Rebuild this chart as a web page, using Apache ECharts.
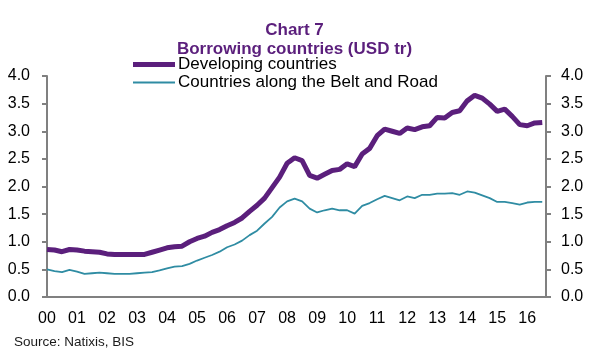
<!DOCTYPE html>
<html>
<head>
<meta charset="utf-8">
<script src="https://cdn.jsdelivr.net/npm/echarts@6/dist/echarts.min.js"></script>
<style>html,body{margin:0;padding:0;background:#fff}#c{width:589px;height:359px}</style>
</head>
<body>
<div id="c"></div>
<script>
// Quarterly observations, 2000Q1 .. 2016Q3
var quarters = [];
for (var y = 2000; y <= 2016; y++) { for (var q = 1; q <= 4; q++) { quarters.push(y + 'Q' + q); } }
quarters = quarters.slice(0, 67);

var developing = [0.86,0.85,0.82,0.86,0.85,0.83,0.82,0.81,0.78,0.77,0.77,0.77,0.77,0.77,0.81,0.85,
  0.89,0.91,0.92,1.00,1.06,1.10,1.17,1.22,1.29,1.35,1.43,1.55,1.66,1.79,1.98,2.17,
  2.42,2.52,2.47,2.20,2.15,2.22,2.29,2.31,2.41,2.36,2.59,2.69,2.92,3.04,3.00,2.96,
  3.06,3.03,3.08,3.10,3.25,3.24,3.34,3.37,3.55,3.65,3.60,3.49,3.36,3.40,3.27,3.12,
  3.10,3.15,3.16];
var beltRoad = [0.50,0.47,0.45,0.49,0.46,0.42,0.43,0.44,0.43,0.42,0.42,0.42,0.43,0.44,0.45,0.48,
  0.52,0.55,0.56,0.60,0.66,0.71,0.76,0.82,0.90,0.95,1.02,1.12,1.20,1.33,1.45,1.62,
  1.73,1.78,1.73,1.60,1.53,1.57,1.60,1.57,1.57,1.51,1.65,1.70,1.77,1.83,1.79,1.75,
  1.82,1.79,1.85,1.85,1.87,1.87,1.88,1.85,1.91,1.89,1.84,1.79,1.72,1.72,1.70,1.67,
  1.71,1.72,1.72];
var yTicks = [0, 0.5, 1, 1.5, 2, 2.5, 3, 3.5, 4];

var FONT = "'Liberation Sans', Arial, sans-serif";
var PURPLE = '#5b1f7c';
var TEAL = '#2f8ca3';
var AXIS = '#808080';

function pairs(arr) { return arr.map(function (v, i) { return [i, v]; }); }

var chart = echarts.init(document.getElementById('c'), null, { renderer: 'canvas' });
function yAxisFor(pos, margin) {
  return {
    type: 'value', position: pos, min: yTicks[0], max: yTicks[yTicks.length - 1], interval: 0.5,
    axisLine: { show: true, lineStyle: { color: AXIS, width: 2 } },
    axisTick: { show: true, length: 5, lineStyle: { color: AXIS, width: 2 } },
    splitLine: { show: false },
    axisLabel: { fontSize: 16, color: '#000', fontFamily: FONT, margin: margin,
      formatter: function (v) { return v.toFixed(1); } }
  };
}
chart.setOption({
  animation: false,
  textStyle: { fontFamily: FONT },
  title: {
    text: 'Chart 7\nBorrowing countries (USD tr)',
    left: 'center', top: 16,
    textStyle: { fontSize: 17, fontWeight: 'bold', color: PURPLE, fontFamily: FONT, lineHeight: 19 }
  },
  legend: [
    { data: ['Developing countries'], left: 133, top: 56, padding: 0, orient: 'vertical', icon: 'rect',
      itemWidth: 42, itemHeight: 5, selectedMode: false, itemGap: 0,
      textStyle: { fontSize: 17, color: '#000', fontFamily: FONT, padding: [0,0,0,-2] } },
    { data: ['Countries along the Belt and Road'], left: 133, top: 74, padding: 0, orient: 'vertical', icon: 'rect',
      itemWidth: 42, itemHeight: 2, selectedMode: false, itemGap: 0,
      textStyle: { fontSize: 17, color: '#000', fontFamily: FONT, padding: [0,0,0,-2] } }
  ],
  grid: { left: 47, right: 43, top: 76, bottom: 62, containLabel: false },
  xAxis: {
    type: 'value', min: 0, max: 66.5, interval: 4,
    axisLine: { show: true, lineStyle: { color: AXIS, width: 2 } },
    axisTick: { show: false },
    splitLine: { show: false },
    axisLabel: { fontSize: 16, color: '#000', fontFamily: FONT, margin: 14, showMaxLabel: false,
      formatter: function (v) {
        if (v % 4 !== 0) return '';
        var lab = quarters[v];
        return lab ? lab.slice(2, 4) : '';
      } }
  },
  yAxis: [ yAxisFor('left', 17), yAxisFor('right', 15) ],
  series: [
    { name: 'Developing countries', type: 'line', data: pairs(developing), showSymbol: false,
      lineStyle: { color: PURPLE, width: 5 }, itemStyle: { color: PURPLE }, z: 3 },
    { name: 'Countries along the Belt and Road', type: 'line', data: pairs(beltRoad), showSymbol: false,
      lineStyle: { color: TEAL, width: 1.8 }, itemStyle: { color: TEAL }, z: 2 }
  ],
  graphic: [
    { type: 'text', left: 14, top: 335,
      style: { text: 'Source: Natixis, BIS', fontSize: 13.5, fill: '#1a1a1a', fontFamily: FONT } }
  ]
});
</script>
</body>
</html>
